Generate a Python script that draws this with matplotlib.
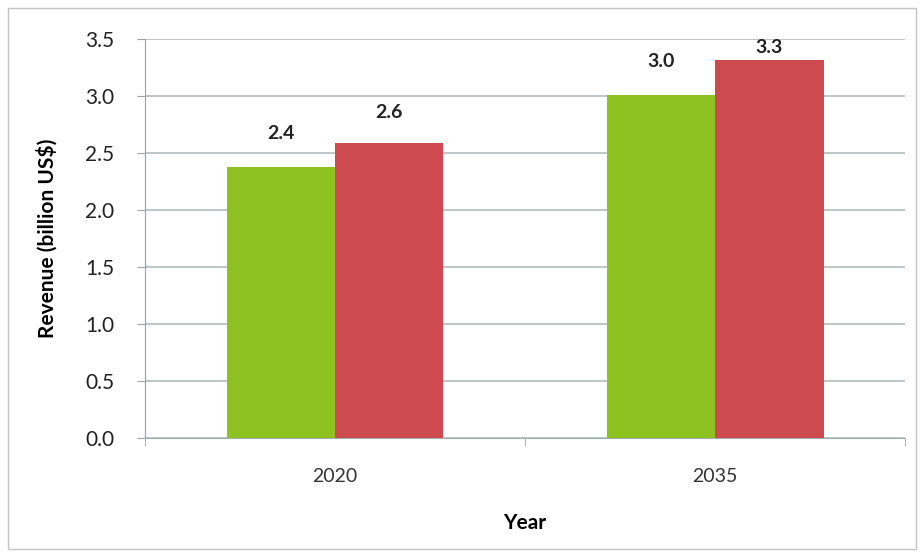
import numpy as np
import matplotlib.pyplot as plt
from matplotlib.patches import Rectangle

years = ['2020', '2035']
green_vals = [2.38, 3.01]
red_vals = [2.59, 3.32]
green_labels = ['2.4', '3.0']
red_labels = ['2.6', '3.3']
yticks = [0.0, 0.5, 1.0, 1.5, 2.0, 2.5, 3.0, 3.5]

plt.rcParams['font.family'] = ['Lato', 'DejaVu Sans']

fig = plt.figure(figsize=(9.22, 5.6), dpi=100)
fig.patches.append(Rectangle((0.009, 0.020), 0.985, 0.965, transform=fig.transFigure,
                             fill=False, edgecolor='#c4c4c4', linewidth=1.0))
ax = fig.add_axes([0.157, 0.218, 0.825, 0.712])

x = np.arange(len(years))
w = 0.285
ax.bar(x - w / 2, green_vals, w, color='#8dc220', zorder=3)
ax.bar(x + w / 2, red_vals, w, color='#cd4b4f', zorder=3)

# value labels above bars, kept inside the plot
for i in range(len(years)):
    ax.text(x[i] - w / 2, min(green_vals[i] + 0.29, 3.43), green_labels[i], ha='center',
            va='center', fontsize=14, fontweight='bold', color='#222222')
    ax.text(x[i] + w / 2, min(red_vals[i] + 0.27, 3.43), red_labels[i], ha='center',
            va='center', fontsize=14, fontweight='bold', color='#222222')

ax.set_xlim(-0.5, 1.5)
ax.set_ylim(0, 3.5)
ax.set_yticks(yticks)
ax.set_yticklabels(['%.1f' % v for v in yticks], fontsize=15, color='#222222')
ax.yaxis.grid(True, color='#a9b7b7', linewidth=1.1, zorder=0)

ax.set_xticks(x)
ax.set_xticklabels(years, fontsize=14, color='#333333')
ax.set_xticks([-0.5, 0.5, 1.5], minor=True)
ax.tick_params(axis='x', which='major', length=0, pad=22)
ax.tick_params(axis='x', which='minor', length=6, color='#a0a0a0')
ax.tick_params(axis='y', length=6, color='#a0a0a0', pad=16)

for s in ['top', 'right']:
    ax.spines[s].set_visible(False)
ax.spines['left'].set_color('#a0a0a0')
ax.spines['bottom'].set_color('#a0b0b0')

ax.set_xlabel('Year', fontsize=15, fontweight='bold', labelpad=20)
ax.set_ylabel('Revenue (billion US$)', fontsize=15, fontweight='bold', labelpad=20)

fig.savefig('out.png', dpi=100)
